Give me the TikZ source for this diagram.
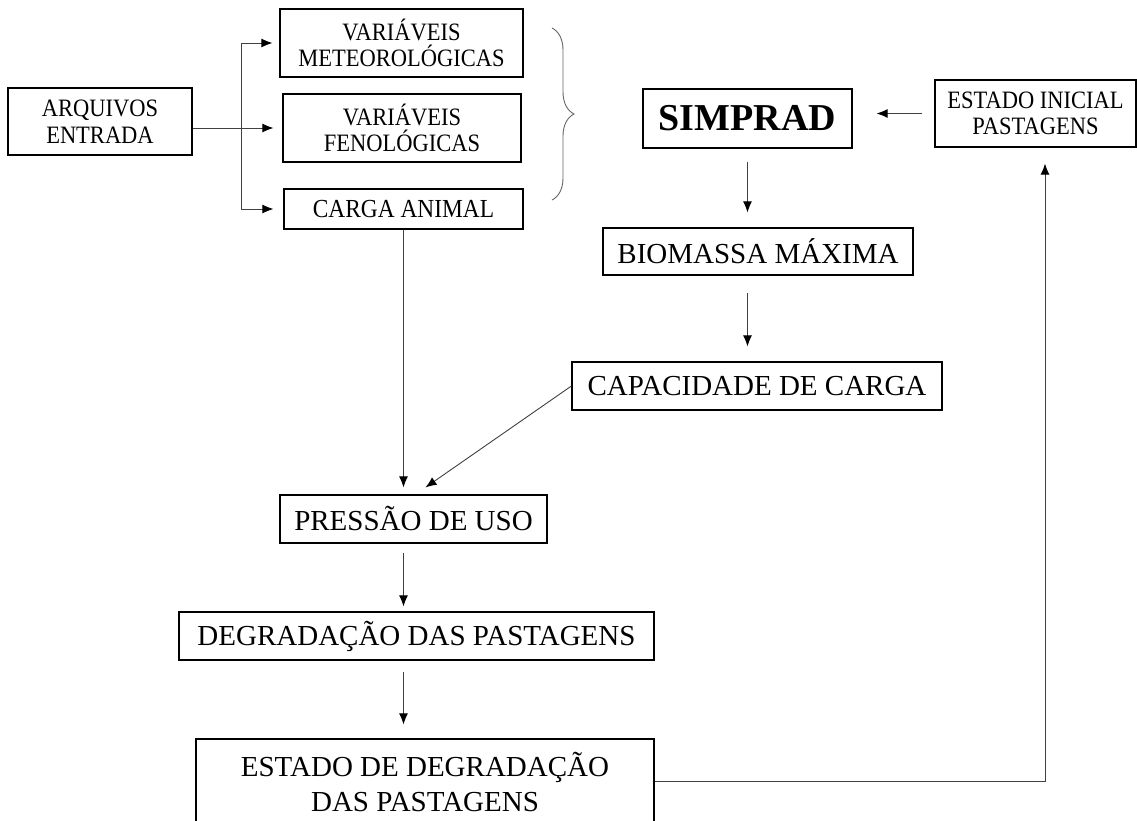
\documentclass[tikz,border=0pt]{standalone}
\usepackage{fontspec}
\setmainfont{Liberation Serif}
\newfontfamily\estreita{Liberation Serif}[FakeStretch=0.9]
\usepackage{tikz}
\usetikzlibrary{positioning,arrows.meta,calc,decorations.pathreplacing}

\begin{document}
\begin{tikzpicture}[x=1pt,y=-1pt,
		caixa/.style={draw, line width=1.2pt, align=center, inner sep=0pt},
		pequena/.style={caixa, font=\estreita\fontsize{25}{26.5}\selectfont},
		grande/.style={caixa, font=\fontsize{29}{35}\selectfont},
		seta/.style={-{Latex[length=11pt,width=9pt,color=black]}, line width=0.9pt, draw=black!75}]
		\useasboundingbox (0,0) rectangle (1137,821);
		\clip (0,0) rectangle (1137,821);
		\node[pequena, minimum width=184, minimum height=67] (arquivos) at (100,121.5) {ARQUIVOS\\ENTRADA};
		\node[pequena, minimum width=243, minimum height=68] (meteo) at (401.5,43) {VARIÁVEIS\\METEOROLÓGICAS};
		\node[pequena, minimum width=238, minimum height=68] (feno) at (402,128) {VARIÁVEIS\\FENOLÓGICAS};
		\node[pequena, minimum width=239, minimum height=40, font=\estreita\fontsize{26}{28}\selectfont] (carga) at (403.5,209) {CARGA ANIMAL};
		\node[caixa, minimum width=209, minimum height=59, font=\fontsize{38}{42}\selectfont\bfseries] (simprad) at (747.5,118.5) {SIMPRAD};
		\node[pequena, minimum width=201, minimum height=67] (inicial) at (1035.5,113.5) {ESTADO INICIAL\\PASTAGENS};
		\node[grande, minimum width=310, minimum height=47] (biomassa) at (758,251.5) {BIOMASSA MÁXIMA};
		\node[grande, minimum width=370, minimum height=48] (capacidade) at (757,386) {CAPACIDADE DE CARGA};
		\node[grande, minimum width=267, minimum height=48] (pressao) at (413.5,519) {PRESSÃO DE USO};
		\node[grande, minimum width=475, minimum height=48] (degradacao) at (416.5,636) {DEGRADAÇÃO DAS PASTAGENS};
		\node[grande, minimum width=458, minimum height=86] (estado) at (425,782) {ESTADO DE DEGRADAÇÃO\\DAS PASTAGENS};
		% entradas
		\coordinate (ramo) at (241,128);
		\draw[seta, shorten >=9pt] (arquivos.east |- ramo) -- (feno.west);
		\draw[seta, shorten >=7pt] (ramo |- carga.west) -- (ramo |- meteo.west) -- (meteo.west);
		\draw[seta, shorten >=10pt] (ramo |- carga.west) -- (carga.west);
		\draw[decorate, decoration={brace, amplitude=22pt}, line width=0.9pt, draw=black!60] (552,28) -- (552,200);
		% modelo
		\draw[seta, shorten <=12pt, shorten >=24pt] (inicial.west) -- (inicial.west -| simprad.east);
		\draw[seta, shorten <=13pt, shorten >=15pt] (simprad.south) -- (simprad.south |- biomassa.north);
		\draw[seta, shorten <=17pt, shorten >=15pt] (biomassa.south -| simprad.south) -- (simprad.south |- capacidade.north);
		\draw[seta] (capacidade.west) -- ([xshift=12pt, yshift=7pt]pressao.north);
		\draw[seta, shorten >=7pt] (carga.south) -- (carga.south |- pressao.north);
		\draw[seta, shorten <=9pt, shorten >=5pt] (carga.south |- pressao.south) -- (carga.south |- degradacao.north);
		\draw[seta, shorten <=11pt, shorten >=14pt] (carga.south |- degradacao.south) -- (carga.south |- estado.north);
		% retorno
		\coordinate (volta) at (1045,781);
		\draw[seta, shorten >=16pt] (estado.east |- volta) -- (volta) -- (volta |- inicial.south);
\end{tikzpicture}
\end{document}
